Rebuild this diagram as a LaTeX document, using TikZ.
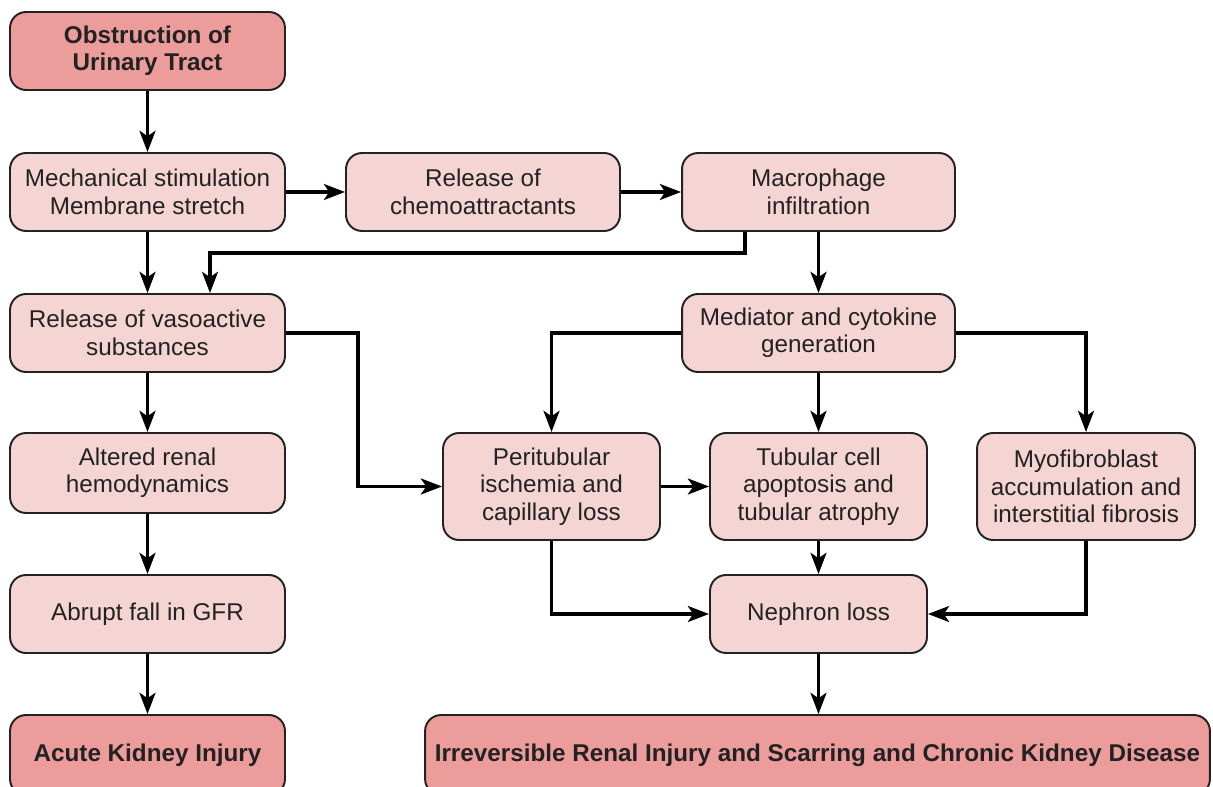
\documentclass[tikz,border=0pt]{standalone}
\usepackage{fontspec}
\setmainfont{Liberation Sans}
\usetikzlibrary{arrows.meta}

\definecolor{boxpink}{HTML}{F4D5D3}
\definecolor{keypink}{HTML}{EC9C9B}
\definecolor{inkgray}{HTML}{222222}

\begin{document}
\begin{tikzpicture}[x=0.02cm,y=-0.02cm,
    stage/.style={draw=inkgray, line width=1.1pt, fill=boxpink, rounded corners=0.32cm,
      align=center, text=inkgray, inner sep=0pt, minimum width=5.5cm, minimum height=1.56cm,
      font=\fontsize{13.8}{15.6}\selectfont},
    keystage/.style={stage, fill=keypink, font=\fontsize{13.8}{15.6}\selectfont\bfseries},
    flow/.style={line width=2.2pt, -{Stealth[length=12pt,width=9pt,inset=3pt]}}]
    \useasboundingbox (0,0) rectangle (1213,787);
    \clip (0,0) rectangle (1213,787);

    % left column
    \node [keystage] (obst) at (147.5,51) {Obstruction of\\Urinary Tract};
    \node [stage] (mech) at (147.5,192) {Mechanical stimulation\\Membrane stretch};
    \node [stage] (vaso) at (147.5,333) {Release of vasoactive\\substances};
    \node [stage, minimum height=1.6cm] (alter) at (147.5,473) {Altered renal\\hemodynamics};
    \node [stage] (abrupt) at (147.5,614) {Abrupt fall in GFR};
    \node [keystage, minimum height=1.6cm] (acute) at (147.5,755) {Acute Kidney Injury};

    % top row and right side
    \node [stage, minimum width=5.48cm] (chemo) at (483,192) {Release of\\chemoattractants};
    \node [stage, minimum width=5.46cm] (macro) at (818.5,192) {Macrophage\\infiltration};
    \node [stage, minimum width=5.46cm] (medi) at (818.5,333) {Mediator and cytokine\\generation};
    \node [stage, minimum width=4.34cm, minimum height=2.14cm] (peri) at (551.5,486.5) {Peritubular\\ischemia and\\capillary loss};
    \node [stage, minimum width=4.34cm, minimum height=2.14cm] (tubu) at (818.5,486.5) {Tubular cell\\apoptosis and\\tubular atrophy};
    \node [stage, minimum width=4.36cm, minimum height=2.14cm] (myof) at (1086,486.5) {Myofibroblast\\accumulation and\\interstitial fibrosis};
    \node [stage, minimum width=4.34cm] (neph) at (818.5,614) {Nephron loss};
    \node [keystage, minimum width=15.7cm, minimum height=1.6cm] (irrev) at (817.5,755) {Irreversible Renal Injury and Scarring and Chronic Kidney Disease};

    \coordinate (mbend) at (745,253);
    \coordinate (vbend) at (210,253);
    \coordinate (sidecol) at (358,0);

    \draw [flow] (obst) -- (mech);
    \draw [flow] (mech) -- (vaso);
    \draw [flow] (vaso) -- (alter);
    \draw [flow] (alter) -- (abrupt);
    \draw [flow] (abrupt) -- (acute);
    \draw [flow] (mech) -- (chemo);
    \draw [flow] (chemo) -- (macro);
    \draw [flow] (macro) -- (medi);
    \draw [flow] (macro.south -| mbend) -- (mbend) -- (vbend) -- (vaso.north -| vbend);
    \draw [flow] (vaso.east) -| (sidecol |- peri.west) -- (peri.west);
    \draw [flow] (medi.west) -| (peri.north);
    \draw [flow] (medi) -- (tubu);
    \draw [flow] (medi.east) -| (myof.north);
    \draw [flow] (peri) -- (tubu);
    \draw [flow] (tubu) -- (neph);
    \draw [flow] (peri.south) |- (neph.west);
    \draw [flow] (myof.south) |- (neph.east);
    \draw [flow] (neph.south) -- (neph.south |- irrev.north);
\end{tikzpicture}
\end{document}
